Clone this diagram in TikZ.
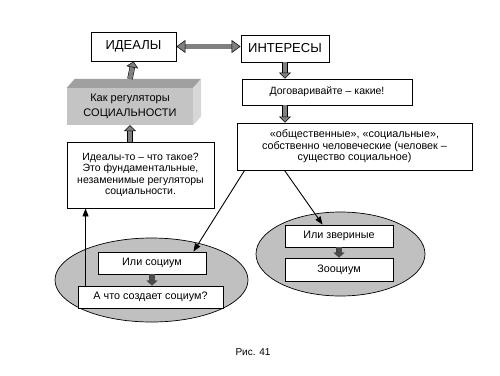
\documentclass[tikz,border=0pt]{standalone}
\usepackage{fontspec}
\setmainfont{Liberation Sans}
\usetikzlibrary{positioning,arrows.meta,calc,shapes.geometric}
\definecolor{ellgray}{RGB}{192,192,192}
\definecolor{facegray}{RGB}{196,196,196}
\definecolor{topgray}{RGB}{160,160,160}
\definecolor{sidegray}{RGB}{215,215,215}

\begin{document}
\begin{tikzpicture}[
    x=1pt, y=-1pt,
    box/.style={rectangle, draw, line width=0.9pt, fill=white, align=center, inner sep=1pt, font=\fontsize{10.8}{11.6}\selectfont},
    bigbox/.style={box, font=\fontsize{13}{14}\selectfont},
    fatarrow/.style={draw=black, line width=0.5pt, double=gray, double distance=4.5pt, -{Triangle[length=6pt, width=12pt, fill=gray]}},
    fatboth/.style={fatarrow, {Triangle[length=9pt, width=13pt, fill=gray]}-{Triangle[length=9pt, width=13pt, fill=gray]}},
    darkarrow/.style={draw=black!75, line width=0.3pt, double=black!70, double distance=5pt, -{Triangle[length=5pt, width=11pt, fill=black!70]}},
    arrow/.style={-{Triangle[length=8pt, width=6pt]}, line width=0.9pt},
    label/.style={font=\fontsize{10}{12}\selectfont}
]
\path[fill=white] (0,0) rectangle (500,375);

% Ellipses
\node[ellipse, draw, line width=0.7pt, fill=ellgray, minimum width=193pt, minimum height=84pt] (ellleft) at (151.5,280) {};
\node[ellipse, draw, line width=0.7pt, fill=ellgray, minimum width=169pt, minimum height=84pt] (ellright) at (340.5,254) {};

% Top row
\node[bigbox, minimum width=85pt, minimum height=29pt] (ideals) at (133.5,46.5) {ИДЕАЛЫ};
\node[bigbox, minimum width=88pt, minimum height=27pt] (interests) at (285,48.5) {ИНТЕРЕСЫ};

% Regulators block
\node[rectangle, fill=facegray, minimum width=126pt, minimum height=37pt, align=center, font=\fontsize{11}{14.5}\selectfont] (regul) at (130,106.5) {Как регуляторы\\СОЦИАЛЬНОСТИ};
\fill[topgray] (regul.north west) -- ++(8,-9) -- ([shift={(8,-9)}]regul.north east) -- (regul.north east) -- cycle;
\fill[sidegray] (regul.north east) -- ++(8,-9) -- ([shift={(8,-9)}]regul.south east) -- (regul.south east) -- cycle;

% Right column
\node[box, font=\fontsize{10.5}{12}\selectfont, minimum width=170pt, minimum height=26pt] (agree) at (327,92) {Договаривайте -- какие!};
\node[box, minimum width=235pt, minimum height=47pt] (social) at (354.5,146.5) {«общественные», «социальные»,\\собственно человеческие (человек --\\существо социальное)};

% Left question
\node[box, font=\fontsize{10.5}{11.5}\selectfont, minimum width=147pt, minimum height=66pt] (whatis) at (140.5,175) {Идеалы-то -- что такое?\\Это фундаментальные,\\незаменимые регуляторы\\социальности.};

% Inside ellipses
\node[box, minimum width=108pt, minimum height=22pt] (orsocium) at (152,263) {Или социум};
\node[box, minimum width=145pt, minimum height=22pt] (creates) at (150.5,297) {А что создает социум?};
\node[box, minimum width=108pt, minimum height=22pt] (beastly) at (339,236) {Или звериные};
\node[box, minimum width=108pt, minimum height=23pt] (zoosoc) at (339,269.5) {Зооциум};

% Caption
\node[label] (caption) at (253,352) {Рис. 41};

% Fat arrows
\draw[fatboth] (ideals.east) -- (ideals.east -| interests.west);
\draw[fatarrow] ([yshift=9pt]regul.north) -- (ideals.south);
\draw[fatarrow] (whatis.north -| regul.north) -- (regul.south);
\draw[fatarrow] (interests.south) -- (interests.south |- agree.north);
\draw[fatarrow] (interests.south |- agree.south) -- (interests.south |- social.north);
\draw[darkarrow] (orsocium.south) -- (orsocium.south |- creates.north);
\draw[darkarrow] (beastly.south) -- (zoosoc.north);

% Thin arrows
\draw[arrow] ([xshift=8pt]social.south west) -- ([xshift=-13pt]orsocium.north east);
\draw[arrow] ([xshift=48pt]social.south west) -- ([xshift=38pt]beastly.north west);
\draw[arrow] ([xshift=8pt]creates.north west) -- ([xshift=8pt]creates.north west |- whatis.south);

\end{tikzpicture}
\end{document}
